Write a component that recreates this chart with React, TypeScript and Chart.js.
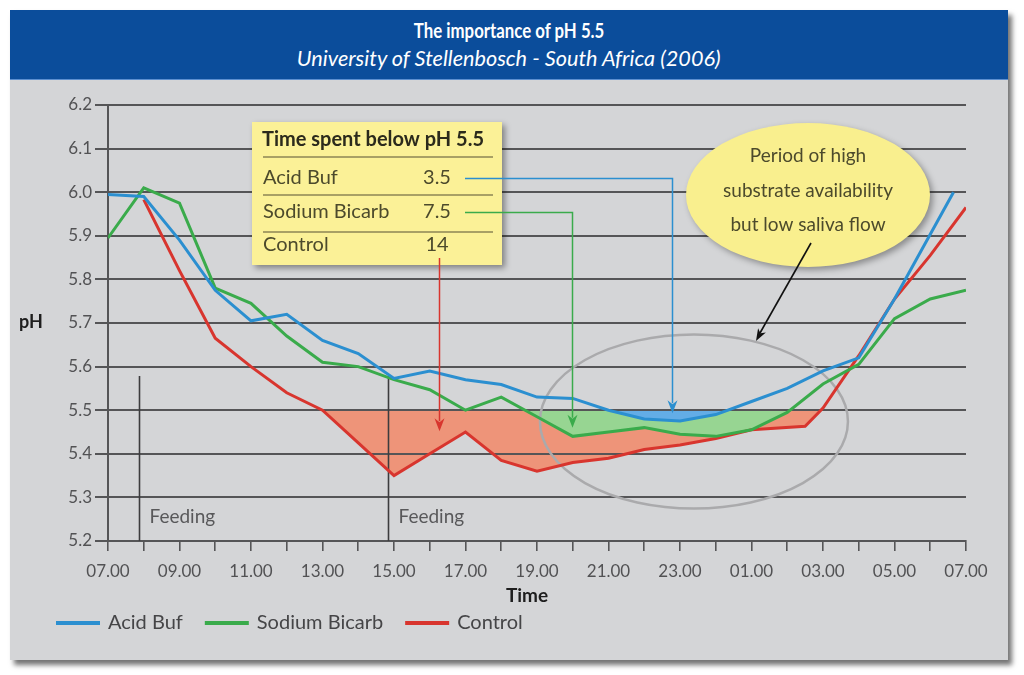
import React, { useEffect, useRef } from 'react';
import { Chart, registerables } from 'chart.js';

Chart.register(...registerables);

// ---------- data (hours after 07.00) ----------
const acidBufHours = [0, 1, 2, 3, 4, 5, 6, 7, 8, 9, 10, 11, 12, 13, 14, 15, 16, 17, 18, 19, 20, 21, 22, 23.65];
const acidBufPH = [5.995, 5.99, 5.89, 5.775, 5.705, 5.72, 5.66, 5.63, 5.573, 5.59, 5.57, 5.559, 5.53, 5.527, 5.5, 5.48, 5.475, 5.49, 5.52, 5.55, 5.59, 5.62, 5.755, 6.0];

const sodiumBicarbHours = [0, 1, 2, 3, 4, 5, 6, 7, 8, 9, 10, 11, 12, 13, 14, 15, 16, 17, 18, 19, 20, 21, 22, 23, 24];
const sodiumBicarbPH = [5.895, 6.01, 5.975, 5.78, 5.745, 5.67, 5.61, 5.6, 5.57, 5.547, 5.5, 5.53, 5.485, 5.44, 5.45, 5.46, 5.445, 5.44, 5.455, 5.495, 5.56, 5.605, 5.71, 5.755, 5.775];

const controlHours = [1, 2, 3, 4, 5, 6, 7, 8, 9, 10, 11, 12, 13, 14, 15, 16, 17, 18, 19.5, 20, 21, 22, 23, 24];
const controlPH = [5.983, 5.82, 5.665, 5.6, 5.54, 5.5, 5.425, 5.35, 5.4, 5.45, 5.385, 5.36, 5.38, 5.39, 5.41, 5.42, 5.435, 5.455, 5.463, 5.505, 5.625, 5.755, 5.855, 5.965];

const seriesNames = ['Acid Buf', 'Sodium Bicarb', 'Control'];
const xTickLabels = ['07.00', '09.00', '11.00', '13.00', '15.00', '17.00', '19.00', '21.00', '23.00', '01.00', '03.00', '05.00', '07.00'];
const thresholdPH = 5.5;

const tableTitle = 'Time spent below pH 5.5';
const hoursBelow = ['3.5', '7.5', '14'];
// arrow targets: [hour, pH]
const arrowHours = [15.78, 12.98, 9.26];
const arrowPH = [5.493, 5.46, 5.452];

const feedingHours = [0.87, 7.83];
const bubbleLines = ['Period of high', 'substrate availability', 'but low saliva flow'];

// ---------- styles ----------
const FONT = 'Lato, "Open Sans", sans-serif';
const GRID = '#555557';
const LINE_COLORS = ['#2b8fd0', '#3aab4b', '#d8352e'];
const FILL_COLORS = ['#63ade6', '#97d592', '#ee9479'];

const arrowHead = (ctx: CanvasRenderingContext2D, x: number, tipY: number, color: string) => {
  ctx.fillStyle = color;
  ctx.beginPath();
  ctx.moveTo(x, tipY);
  ctx.lineTo(x - 5, tipY - 13);
  ctx.lineTo(x, tipY - 9);
  ctx.lineTo(x + 5, tipY - 13);
  ctx.closePath();
  ctx.fill();
};

const decorPlugin = {
  id: 'decor',
  beforeDatasetsDraw(chart: any) {
    const { ctx, chartArea, scales } = chart;
    const x = scales.x;
    const y = scales.y;
    ctx.save();
    // gridlines over the fills
    ctx.strokeStyle = GRID;
    ctx.lineWidth = 2;
    y.ticks.forEach((t: any) => {
      const py = Math.round(y.getPixelForValue(t.value));
      ctx.beginPath();
      ctx.moveTo(chartArea.left, py);
      ctx.lineTo(chartArea.right, py);
      ctx.stroke();
    });
    // feeding markers
    ctx.strokeStyle = '#3c3c3e';
    ctx.lineWidth = 1.6;
    ctx.fillStyle = '#58585a';
    ctx.font = `19px ${FONT}`;
    ctx.textBaseline = 'middle';
    ctx.textAlign = 'left';
    feedingHours.forEach((h) => {
      const px = Math.round(x.getPixelForValue(h)) + 0.5;
      ctx.beginPath();
      ctx.moveTo(px, 376);
      ctx.lineTo(px, chartArea.bottom);
      ctx.stroke();
      ctx.fillText('Feeding', px + 10, 517);
    });
    // grey ellipse around the low period
    ctx.strokeStyle = '#aaaaac';
    ctx.lineWidth = 2.5;
    ctx.beginPath();
    ctx.ellipse(x.getPixelForValue(16.39), y.getPixelForValue(5.474), 154, 87, 0, 0, Math.PI * 2);
    ctx.stroke();
    ctx.restore();
  },
  afterDatasetsDraw(chart: any) {
    const { ctx, scales } = chart;
    const x = scales.x;
    const y = scales.y;
    ctx.save();

    // table box
    ctx.save();
    ctx.shadowColor = 'rgba(0,0,0,0.4)';
    ctx.shadowBlur = 6;
    ctx.shadowOffsetX = 3;
    ctx.shadowOffsetY = 3;
    ctx.fillStyle = '#fbf197';
    ctx.fillRect(252, 122, 250, 143);
    ctx.restore();

    ctx.strokeStyle = '#8c8455';
    ctx.lineWidth = 1.5;
    [157, 195, 232].forEach((ly) => {
      ctx.beginPath();
      ctx.moveTo(263, ly);
      ctx.lineTo(493, ly);
      ctx.stroke();
    });
    ctx.textBaseline = 'middle';
    ctx.textAlign = 'left';
    ctx.fillStyle = '#2b2a1c';
    ctx.font = `bold 20px ${FONT}`;
    ctx.fillText(tableTitle, 262, 140);
    ctx.font = `20px ${FONT}`;
    ctx.fillStyle = '#4c4a2c';
    const rowY = [178, 212, 245];
    seriesNames.forEach((n, i) => {
      ctx.textAlign = 'left';
      ctx.fillText(n, 263, rowY[i]);
      ctx.textAlign = 'center';
      ctx.fillText(hoursBelow[i], 437, rowY[i]);
    });

    // connectors and arrows
    ctx.lineWidth = 1.5;
    arrowHours.forEach((h, i) => {
      const ax = Math.round(x.getPixelForValue(h)) + 0.5;
      const tip = y.getPixelForValue(arrowPH[i]);
      ctx.strokeStyle = LINE_COLORS[i];
      ctx.beginPath();
      if (i < 2) {
        ctx.moveTo(465, rowY[i] + 0.5);
        ctx.lineTo(ax, rowY[i] + 0.5);
        ctx.lineTo(ax, tip - 10);
      } else {
        ctx.moveTo(ax, 258);
        ctx.lineTo(ax, tip - 10);
      }
      ctx.stroke();
      arrowHead(ctx, ax, tip, LINE_COLORS[i]);
    });

    // yellow bubble
    ctx.save();
    ctx.shadowColor = 'rgba(0,0,0,0.35)';
    ctx.shadowBlur = 6;
    ctx.shadowOffsetX = 3;
    ctx.shadowOffsetY = 3;
    ctx.fillStyle = '#f9ef8e';
    ctx.beginPath();
    ctx.ellipse(808, 195, 122, 72, 0, 0, Math.PI * 2);
    ctx.fill();
    ctx.restore();
    ctx.fillStyle = '#4c4a2c';
    ctx.font = `19px ${FONT}`;
    ctx.textAlign = 'center';
    [156, 191, 225].forEach((ly, i) => ctx.fillText(bubbleLines[i], 808, ly));

    // black pointer
    ctx.strokeStyle = '#111';
    ctx.lineWidth = 1.6;
    const sx = 811, sy = 243, ex = 756, ey = 341;
    ctx.beginPath();
    ctx.moveTo(sx, sy);
    ctx.lineTo(ex + 4, ey - 8);
    ctx.stroke();
    const ang = Math.atan2(ey - sy, ex - sx);
    ctx.fillStyle = '#111';
    ctx.beginPath();
    ctx.moveTo(ex, ey);
    ctx.lineTo(ex - 13 * Math.cos(ang - 0.35), ey - 13 * Math.sin(ang - 0.35));
    ctx.lineTo(ex - 9 * Math.cos(ang), ey - 9 * Math.sin(ang));
    ctx.lineTo(ex - 13 * Math.cos(ang + 0.35), ey - 13 * Math.sin(ang + 0.35));
    ctx.closePath();
    ctx.fill();

    // axis titles
    ctx.fillStyle = '#1e1e1e';
    ctx.font = `bold 18px ${FONT}`;
    ctx.textAlign = 'center';
    ctx.fillText('pH', 31, 322);
    ctx.font = `bold 19px ${FONT}`;
    ctx.fillText('Time', 527, 596);

    // legend
    ctx.font = `20px ${FONT}`;
    ctx.textAlign = 'left';
    let cx = 56;
    chart.data.datasets.forEach((ds: any) => {
      ctx.strokeStyle = ds.borderColor;
      ctx.lineWidth = 4;
      ctx.beginPath();
      ctx.moveTo(cx, 623);
      ctx.lineTo(cx + 44, 623);
      ctx.stroke();
      ctx.fillStyle = '#454547';
      ctx.fillText(ds.label, cx + 52, 623);
      cx += 52 + ctx.measureText(ds.label).width + 22;
    });
    ctx.restore();
  },
};

export default function App() {
  const ref = useRef<HTMLCanvasElement | null>(null);

  useEffect(() => {
    if (!ref.current) return;
    const mk = (hours: number[], vals: number[]) => hours.map((h, i) => ({ x: h, y: vals[i] }));
    const sources = [
      [acidBufHours, acidBufPH],
      [sodiumBicarbHours, sodiumBicarbPH],
      [controlHours, controlPH],
    ];
    const chart = new Chart(ref.current, {
      type: 'line',
      data: {
        datasets: sources.map((s, i) => ({
          label: seriesNames[i],
          data: mk(s[0], s[1]),
          borderColor: LINE_COLORS[i],
          backgroundColor: FILL_COLORS[i],
          borderWidth: 3,
          pointRadius: 0,
          tension: 0,
          fill: { target: { value: thresholdPH }, above: 'rgba(0,0,0,0)', below: FILL_COLORS[i] },
        })),
      },
      options: {
        responsive: false,
        animation: false,
        layout: { padding: { left: 0, top: 105, right: 58, bottom: 84 } },
        plugins: {
          legend: { display: false },
          tooltip: { enabled: false },
          filler: { drawTime: 'beforeDatasetsDraw' },
        },
        scales: {
          x: {
            type: 'linear',
            min: 0,
            max: 24,
            afterFit: (s: any) => { s.height = 50; },
            grid: { drawOnChartArea: false, drawTicks: true, tickLength: 10, color: GRID, lineWidth: 1.6 },
            border: { display: true, color: GRID, width: 2 },
            ticks: {
              stepSize: 1,
              autoSkip: false,
              maxRotation: 0,
              padding: 10,
              color: '#525254',
              font: { family: FONT, size: 17 },
              callback: (v: any) => (Number(v) % 2 === 0 ? xTickLabels[Number(v) / 2] : ''),
            },
          },
          y: {
            min: 5.2,
            max: 6.2,
            afterFit: (s: any) => { s.width = 108; },
            grid: { drawOnChartArea: true, drawTicks: true, tickLength: 13, color: GRID, lineWidth: 2 },
            border: { display: true, color: GRID, width: 2 },
            ticks: {
              stepSize: 0.1,
              padding: 3,
              color: '#525254',
              font: { family: FONT, size: 17 },
              callback: (v: any) => Number(v).toFixed(1),
            },
          },
        },
      },
      plugins: [decorPlugin],
    } as any);
    return () => chart.destroy();
  }, []);

  return (
    <div style={{ position: 'absolute', left: 0, top: 0, width: 1024, height: 675, background: '#ffffff', overflow: 'hidden' }}>
      <div style={{ position: 'absolute', left: 10, top: 10, width: 998, height: 650, background: '#d4d5d7', boxShadow: '4px 5px 5px rgba(0,0,0,0.55)' }} />
      <div style={{ position: 'absolute', left: 10, top: 10, width: 998, height: 69, background: '#0b4d9b', borderBottom: '1px solid #5c8fd0', color: '#ffffff', textAlign: 'center', fontFamily: 'Lato, sans-serif' }}>
        <div style={{ position: 'absolute', left: 0, right: 0, top: 7, lineHeight: '26px' }}>
          <span style={{ display: 'inline-block', fontSize: 21, fontWeight: 'bold', transform: 'scaleX(0.8)' }}>The importance of pH 5.5</span>
        </div>
        <div style={{ position: 'absolute', left: 0, right: 0, top: 35, lineHeight: '26px' }}>
          <span style={{ display: 'inline-block', fontSize: 21, fontStyle: 'italic', transform: 'scaleX(1.03)' }}>University of Stellenbosch - South Africa (2006)</span>
        </div>
      </div>
      <canvas ref={ref} width={1024} height={675} style={{ position: 'absolute', left: 0, top: 0, width: 1024, height: 675 }} />
    </div>
  );
}
